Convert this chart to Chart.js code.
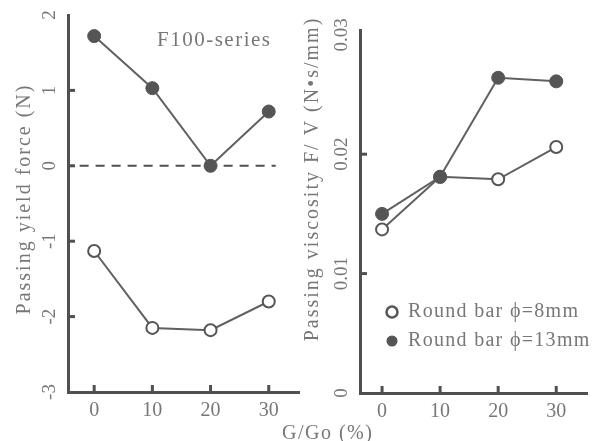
<!DOCTYPE html>
<html>
<head>
<meta charset="utf-8">
<script src="https://cdn.jsdelivr.net/npm/chart.js@4"></script>
<style>
body{margin:0;background:#fff;width:595px;height:441px;position:relative;overflow:hidden;font-family:"Liberation Serif",serif}
#left{position:absolute;left:0;top:0;width:307px;height:441px}
#right{position:absolute;left:300px;top:0;width:295px;height:441px}
#xtitle{position:absolute;left:282px;top:422px;line-height:20px;color:#777;font-size:20px;letter-spacing:1.5px;white-space:nowrap}
</style>
</head>
<body>
<div id="left"><canvas id="yieldChart"></canvas></div>
<div id="right"><canvas id="viscChart"></canvas></div>
<div id="xtitle">G/Go (%)</div>
<script>
// G/Go (%) values
var xValues = [0, 10, 20, 30];
var xTicks = [0, 10, 20, 30];

// passing yield force (N)
var yield13 = [1.72, 1.03, 0.0, 0.72];
var yield8 = [-1.13, -2.15, -2.18, -1.80];
var yieldTicks = [-3, -2, -1, 0, 1, 2];

// passing viscosity F/V (N.s/mm)
var visc13 = [0.0150, 0.0181, 0.0264, 0.0261];
var visc8 = [0.0137, 0.0181, 0.0179, 0.0206];
var viscTicks = [0, 0.01, 0.02, 0.03];
var viscTickLabels = ["0", "0.01", "0.02", "0.03"];

var label8 = "Round bar \u03d5=8mm";
var label13 = "Round bar \u03d5=13mm";

var ink = "#505050";
var lineGrey = "#606060";
var textGrey = "#777";
var serif = '"Liberation Serif", "Times New Roman", serif';

function pairs(ys){
    return xValues.map((x, i) => ({x: x, y: ys[i]}));
}

function filledSet(label, ys){
    return {
        label: label, data: pairs(ys),
        borderColor: lineGrey, borderWidth: 2,
        pointRadius: 6.5, pointBorderWidth: 1,
        pointBackgroundColor: "#555", pointBorderColor: "#555",
        legendDot: "filled"
    };
}

function openSet(label, ys){
    return {
        label: label, data: pairs(ys),
        borderColor: lineGrey, borderWidth: 2,
        pointRadius: 6, pointBorderWidth: 2,
        pointBackgroundColor: "#fff", pointBorderColor: "#555",
        legendDot: "open"
    };
}

// inward ticks, rotated tick labels, titles and legend
var panelText = {
    id: "panelText",
    afterDraw(chart, args, opts){
        const ctx = chart.ctx;
        const xs = chart.scales.x, ys = chart.scales.y;
        ctx.save();
        ctx.strokeStyle = ink;
        ctx.lineWidth = 3;
        xTicks.forEach(v => {
            const px = xs.getPixelForValue(v);
            ctx.beginPath(); ctx.moveTo(px, ys.bottom); ctx.lineTo(px, ys.bottom - 7); ctx.stroke();
        });
        opts.yMarks.forEach(v => {
            const py = ys.getPixelForValue(v);
            ctx.beginPath(); ctx.moveTo(xs.left, py); ctx.lineTo(xs.left + 7, py); ctx.stroke();
        });

        ctx.fillStyle = textGrey;
        ctx.textAlign = "center";
        ctx.textBaseline = "middle";
        ctx.font = "19px " + serif;
        opts.yTicks.forEach((v, i) => {
            ctx.save();
            ctx.translate(opts.tickX, ys.getPixelForValue(v));
            ctx.rotate(-Math.PI / 2);
            ctx.fillText(opts.yTickLabels[i], 0, 0);
            ctx.restore();
        });

        ctx.font = "20px " + serif;
        ctx.letterSpacing = "2px";
        ctx.save();
        ctx.translate(opts.titleX, opts.titleY);
        ctx.rotate(-Math.PI / 2);
        ctx.fillText(opts.title, 0, 0);
        ctx.restore();

        if (opts.note){
            ctx.font = "21px " + serif;
            ctx.letterSpacing = "1.5px";
            ctx.textAlign = "left";
            ctx.fillText(opts.note, 157, 40);
        }

        if (opts.legend){
            ctx.font = "20px " + serif;
            ctx.letterSpacing = "1.3px";
            ctx.textAlign = "left";
            const rows = chart.data.datasets.filter(d => d.legendDot).slice().reverse();
            rows.forEach((d, i) => {
                const y = opts.legend.y + i * 29;
                ctx.beginPath();
                ctx.arc(opts.legend.x, y, 5.5, 0, Math.PI * 2);
                if (d.legendDot === "filled"){
                    ctx.fillStyle = "#555"; ctx.fill();
                } else {
                    ctx.lineWidth = 2.5; ctx.strokeStyle = "#555"; ctx.stroke();
                }
                ctx.fillStyle = textGrey;
                ctx.fillText(d.label, opts.legend.x + 16, y);
            });
        }
        ctx.restore();
    }
};

function makeScales(xMin, xMax, yMin, yMax, yWidth, yTickValues){
    return {
        x: {
            type: "linear", min: xMin, max: xMax,
            afterBuildTicks: s => { s.ticks = xTicks.map(v => ({value: v})); },
            afterFit: s => { s.height = 30; },
            grid: {display: false, drawTicks: false},
            border: {display: true, color: ink, width: 3},
            ticks: {color: textGrey, font: {family: serif, size: 20}, padding: 7}
        },
        y: {
            type: "linear", min: yMin, max: yMax,
            afterBuildTicks: s => { s.ticks = yTickValues.map(v => ({value: v})); },
            afterFit: s => { s.width = yWidth; },
            grid: {display: false, drawTicks: false},
            border: {display: true, color: ink, width: 3},
            ticks: {display: false}
        }
    };
}

new Chart(document.getElementById("yieldChart"), {
    type: "line",
    data: {
        datasets: [
            filledSet(label13, yield13),
            openSet(label8, yield8),
            {
                label: "", data: [{x: -2.5, y: 0}, {x: 31.2, y: 0}],
                borderColor: ink, borderWidth: 2, borderDash: [9, 7], pointRadius: 0
            }
        ]
    },
    options: {
        responsive: true, maintainAspectRatio: false, animation: false,
        layout: {padding: {top: 15, right: 1, bottom: 19, left: 0}},
        scales: makeScales(-4.5, 35.2, -3, 2, 68, yieldTicks),
        plugins: {
            legend: {display: false}, tooltip: {enabled: false},
            panelText: {
                yMarks: [-2, -1, 0, 1], yTicks: yieldTicks,
                yTickLabels: yieldTicks.map(String), tickX: 50,
                title: "Passing yield force (N)", titleX: 25, titleY: 199,
                note: "F100-series"
            }
        }
    },
    plugins: [panelText]
});

new Chart(document.getElementById("viscChart"), {
    type: "line",
    data: {
        datasets: [
            filledSet(label13, visc13),
            openSet(label8, visc8)
        ]
    },
    options: {
        responsive: true, maintainAspectRatio: false, animation: false,
        layout: {padding: {top: 30, right: 0, bottom: 18, left: 0}},
        scales: makeScales(-3.8, 35.3, 0, 0.0304, 60, viscTicks),
        plugins: {
            legend: {display: false}, tooltip: {enabled: false},
            panelText: {
                yMarks: [0.01, 0.02], yTicks: viscTicks,
                yTickLabels: viscTickLabels, tickX: 42,
                title: "Passing viscosity F/ V (N\u2022s/mm)", titleX: 13, titleY: 179,
                legend: {x: 92, y: 312}
            }
        }
    },
    plugins: [panelText]
});
</script>
</body>
</html>
